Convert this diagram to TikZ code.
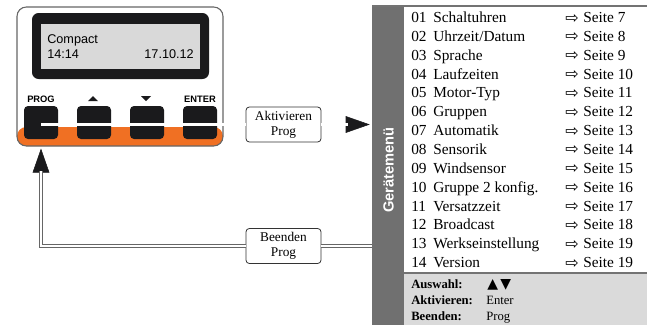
\documentclass[tikz,border=0pt]{standalone}
\usepackage{fontspec}
\setmainfont{Liberation Serif}
\setsansfont{Liberation Sans}
\newfontfamily\menufont{Liberation Serif}
\newfontfamily\symfont{DejaVu Sans}
\usetikzlibrary{arrows.meta}

\definecolor{devorange}{RGB}{240,112,35}
\definecolor{barGray}{RGB}{112,112,112}
\definecolor{lcdGray}{RGB}{217,217,217}
\definecolor{keyBlack}{RGB}{26,26,28}
\definecolor{footGray}{RGB}{218,218,218}

\tikzset{
  dbl/.style={draw=black!60, double=white, double distance=1.6pt, line width=0.55pt},
  tipline/.style={draw=keyBlack, line width=0.4pt, -{Triangle[length=18pt,width=12.5pt]}},
  key/.style={fill=keyBlack, rounded corners=3pt, minimum width=25.5pt, minimum height=24.75pt, inner sep=0pt},
  keylabel/.style={font=\sffamily\bfseries\fontsize{7}{8}\selectfont, inner sep=0pt, anchor=base},
  lcdtext/.style={font=\sffamily\fontsize{9.5}{11}\selectfont, inner sep=0pt},
  stepbox/.style={draw=black!80, fill=white, rounded corners=2.5pt, line width=0.6pt, minimum width=56.25pt, minimum height=26.25pt, inner sep=0pt, align=center, font=\menufont\fontsize{10}{11.25}\selectfont},
  item/.style={anchor=base west, inner sep=0pt, font=\menufont\fontsize{11.5}{13}\selectfont},
  foot/.style={anchor=base west, inner sep=0pt, font=\menufont\fontsize{9.5}{11}\selectfont},
}

\begin{document}
\begin{tikzpicture}[x=0.75pt,y=-0.75pt]
\useasboundingbox (0,0) rectangle (647,325);

% Bedienteil
\node (dev) [draw=black!60, line width=0.8pt, fill=white, rounded corners=7pt, minimum width=154.5pt, minimum height=104.25pt, inner sep=0pt,
  path picture={\fill [devorange] ([yshift=14.25pt]path picture bounding box.south west) rectangle (path picture bounding box.south east);}] at (120,76.5) {};
\node (frame) [fill=keyBlack, rounded corners=5pt, minimum width=132.75pt, minimum height=49.5pt, inner sep=0pt] at (120.5,46) {};
\node (lcd) [fill=lcdGray, minimum width=119.25pt, minimum height=33.75pt, inner sep=0pt] at (120.5,46.5) {};
\node (l1) [lcdtext, anchor=base west] at (47,43) {Compact};
\node (l2) [lcdtext, anchor=base west] at (47,58) {14:14};
\node (l3) [lcdtext, anchor=base east] at (194,58) {17.10.12};

\foreach \k/\x in {prog/41, up/94, down/147, enter/200}
  \node (\k) [key] at (\x,122.5) {};
\node (progl) [keylabel] at (41,102.5) {PROG};
\node (enterl) [keylabel] at (200,102.5) {ENTER};
\fill [keyBlack] (88,101) -- (98,101) -- (93,96) -- cycle;
\fill [keyBlack] (141,96) -- (151,96) -- (146,101) -- cycle;

% Menue
\node (bar) [fill=barGray, minimum width=24pt, minimum height=239.25pt, inner sep=0pt] at (388,165.5) {};
\node (title) [rotate=90, text=white, inner sep=0pt, font=\sffamily\bfseries\fontsize{11}{13}\selectfont] at (388.5,170) {Gerätemenü};

\fill [footGray] (404,273) rectangle (647,325);
\draw [black!55, line width=0.8pt] (372,6) -- (647,6);
\draw [black!55, line width=0.8pt] (404,273) -- (647,273);

\foreach \nr/\txt/\pg [count=\i from 0] in {01/Schaltuhren/7, 02/{Uhrzeit/Datum}/8, 03/Sprache/9, 04/Laufzeiten/10,
    05/Motor-Typ/11, 06/Gruppen/12, 07/Automatik/13, 08/Sensorik/14, 09/Windsensor/15, 10/Gruppe 2 konfig./16,
    11/Versatzzeit/17, 12/Broadcast/18, 13/Werkseinstellung/19, 14/Version/19} {
  \pgfmathsetmacro\yb{22.5+\i*18.85}
  \node (nr\nr) [item] at (411,\yb) {\nr};
  \node (it\nr) [item] at (433,\yb) {\txt};
  \node (ar\nr) [item, font=\symfont\fontsize{12}{14}\selectfont] at (565,\yb+0.5) {⇨};
  \node (pg\nr) [item] at (583,\yb) {Seite \pg};
}

\node (ausw) [foot] at (411,288) {\bfseries Auswahl:};
\node (aktiv) [foot] at (411,304) {\bfseries Aktivieren:};
\node (been) [foot] at (411,320) {\bfseries Beenden:};
\node (pfeile) [foot, font=\symfont\fontsize{10.5}{12}\selectfont] at (487,288.5) {▲\,▼};
\node (enter2) [foot] at (486,304) {Enter};
\node (prog2) [foot] at (486,320) {Prog};

% Aktivieren / Beenden
\node (akt) [stepbox] at (283.5,124.5) {Aktivieren\\Prog};
\draw [dbl] (prog.center |- akt) -- (akt.west);
\draw [tipline, shorten >=1.5pt] (akt.east) -- (bar.west |- akt);
\draw [dbl, shorten >=18pt] (akt.east) -- (bar.west |- akt);

\node (ende) [stepbox] at (283.5,246) {Beenden\\Prog};
\draw [dbl] (bar.west |- ende) -- (ende.east);
\draw [tipline] (ende.west) -| ([yshift=-1.5pt]prog |- dev.south);
\draw [dbl, shorten >=17pt] (ende.west) -| ([yshift=-1.5pt]prog |- dev.south);

\end{tikzpicture}
\end{document}
